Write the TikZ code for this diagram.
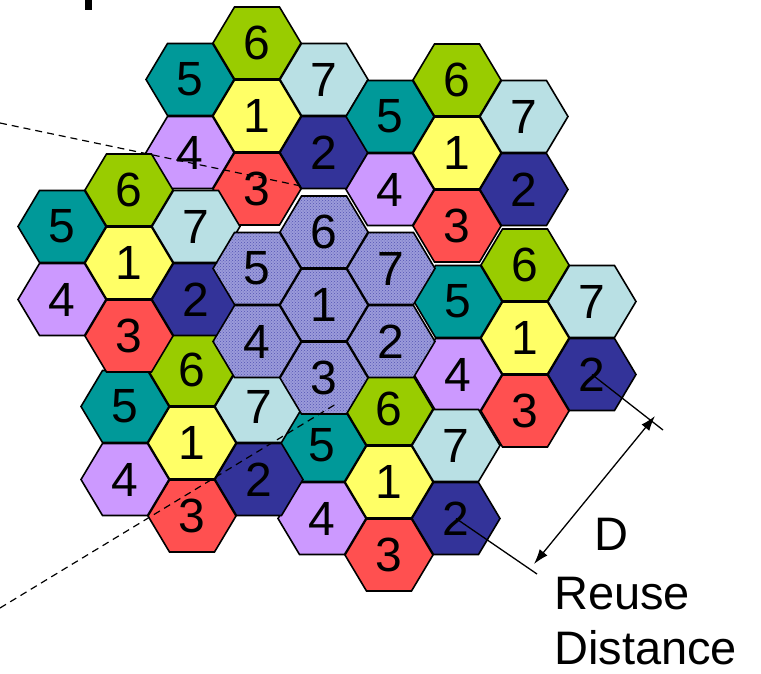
\documentclass[tikz,border=0pt]{standalone}
\usepackage{fontspec}
\setmainfont{Liberation Sans}
\usetikzlibrary{arrows.meta,patterns}
\definecolor{cellOne}{RGB}{255,255,102}
\definecolor{cellTwo}{RGB}{51,51,153}
\definecolor{cellThree}{RGB}{255,80,80}
\definecolor{cellFour}{RGB}{204,153,255}
\definecolor{cellFive}{RGB}{0,153,153}
\definecolor{cellSix}{RGB}{153,204,0}
\definecolor{cellSeven}{RGB}{185,224,228}
\definecolor{shadeMid}{RGB}{155,155,218}
\definecolor{shadeDark}{RGB}{85,85,180}
\tikzset{
  hexagon/.pic={\path[pic actions] (-44,0) -- (-22.5,-36) -- (22.5,-36) -- (44,0) -- (22.5,36) -- (-22.5,36) -- cycle;},
  hexcell/.style={draw=black, line width=1.6pt},
  shadedcell/.style={hexcell, pattern=crosshatch dots, pattern color=shadeDark},
  celltext/.style={font=\fontsize{48}{48}\selectfont, inner sep=0pt},
  labeltext/.style={font=\fontsize{47}{47}\selectfont, inner sep=0pt, anchor=base west},
  zoomline/.style={dash pattern=on 7pt off 5pt, line width=1.2pt},
  extline/.style={line width=1.3pt},
  dimarrow/.style={{Latex[length=15pt,width=10pt]}-{Latex[length=15pt,width=10pt]}, line width=1.3pt}
}

\begin{document}
\begin{tikzpicture}[x=1pt,y=-1pt]
\useasboundingbox (0,0) rectangle (761,673);
\fill (85,0) rectangle (92,10);
\foreach \cn/\cx/\cy in {top/257/116, upright/457/153, right/525/338, lowright/389/482, lowleft/192/443, left/129/263}
  \foreach \k/\dx/\dy/\col in {1/0/0/cellOne, 2/67/36.5/cellTwo, 3/0/73/cellThree, 4/-67/36.5/cellFour, 5/-67/-36.5/cellFive, 6/0/-73/cellSix, 7/67/-36.5/cellSeven} {
    \path (\cx+\dx,\cy+\dy) pic[hexcell, fill=\col] {hexagon};
    \node[celltext] (\cn-\k) at (\cx+\dx,\cy+\dy) {\k};
  }
\foreach \k/\dx/\dy in {1/0/0, 2/67/36.5, 3/0/73, 4/-67/36.5, 5/-67/-36.5, 6/0/-73, 7/67/-36.5} {
  \path (324+\dx,305+\dy) pic[fill=shadeMid] {hexagon};
  \path (324+\dx,305+\dy) pic[shadedcell] {hexagon};
  \node[celltext] (mid-\k) at (324+\dx,305+\dy) {\k};
}
\coordinate (zoomTopL) at (0,123);
\coordinate (zoomTopR) at (301,186);
\coordinate (zoomBotL) at (0,608);
\coordinate (zoomBotR) at (336,404);
\draw[zoomline] (zoomTopL) -- (zoomTopR);
\draw[zoomline] (zoomBotL) -- (zoomBotR);
\coordinate (extA) at (663,430);
\coordinate (extB) at (537,574);
\draw[extline] (right-2.center) -- (extA);
\draw[extline] (lowright-2.center) -- (extB);
\coordinate (dimA) at (655,416);
\coordinate (dimB) at (534,564);
\draw[dimarrow] (dimB) -- (dimA);
\node[labeltext] (distD) at (594,550) {D};
\node[labeltext] (distReuse) at (554,609) {Reuse};
\node[labeltext] (distWord) at (554,664) {Distance};
\end{tikzpicture}
\end{document}
